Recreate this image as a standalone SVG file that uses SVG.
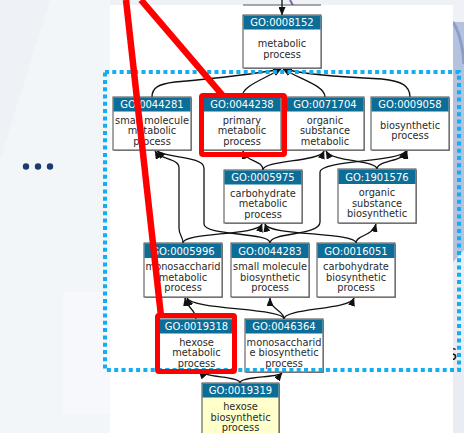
<svg xmlns="http://www.w3.org/2000/svg" width="464" height="433" viewBox="0 0 464 433">
  <defs>
    <marker id="arrow" markerUnits="userSpaceOnUse" markerWidth="9" markerHeight="7" refX="8" refY="3.5" orient="auto">
      <path d="M0,0 L8.5,3.5 L0,7 z" fill="#111"/>
    </marker>
    <style>
      .box { fill: #ffffff; stroke: #4a4a4a; stroke-width: 1; }
      .leaf { fill: #ffffcc; stroke: #4a4a4a; stroke-width: 1; }
      .shadow { fill: #9a9a9a; }
      .hdr { fill: #0c6d97; }
      .id { font-family: "DejaVu Sans", sans-serif; font-size: 10px; fill: #ffffff; text-anchor: middle; }
      .lbl { font-family: "DejaVu Sans", sans-serif; font-size: 9.8px; fill: #2a2a2a; text-anchor: middle; }
      .edge { fill: none; stroke: #111111; stroke-width: 1.3; marker-end: url(#arrow); }
      .sel { fill: none; stroke: #ff0000; stroke-width: 5; stroke-linejoin: round; }
      .ptr { stroke: #ff0000; stroke-width: 6.5; stroke-linecap: butt; }
    </style>
  </defs>

  <!-- slide background -->
  <rect x="0" y="0" width="464" height="433" fill="#eef2f6"/>
  <polygon points="50,0 110,0 110,433 0,433 0,160" fill="#f3f6f9"/>
  <rect x="63" y="292" width="47" height="122" fill="#f6f8fb"/>
  <path d="M290,0 L296,11" stroke="#7f66b0" stroke-width="2" fill="none"/>
  <!-- right side decoration -->
  <rect x="453" y="22" width="11" height="290" fill="#b4c1df"/>
  <path d="M453,22 Q462,36 464,64" stroke="#8c9dc6" stroke-width="3" fill="none"/>
  <polygon points="453,262 464,250 464,433 453,433" fill="#e9edf3"/>
  <text x="447" y="360" font-family="DejaVu Sans, sans-serif" font-size="16" fill="#111">S</text>

  <!-- diagram panel -->
  <rect x="110" y="5" width="343" height="428" fill="#ffffff"/>
  <line x1="243" y1="5" x2="321" y2="5" stroke="#555" stroke-width="1.2"/>

  <!-- connectors -->
  <g id="connectors">
    <path class="edge" d="M282,0 L282,15"/>
    <path class="edge" d="M152,97 C152,88 158,84 175,82 C220,78 255,74 281,69"/>
    <path class="edge" d="M242,97 C242,86 262,80 281,69"/>
    <path class="edge" d="M325,97 C325,86 302,80 283,69"/>
    <path class="edge" d="M410,97 C410,86 402,81 382,79 C340,77 302,74 284,69"/>

    <path class="edge" d="M263,170 C263,160 246,162 243,151"/>
    <path class="edge" d="M263,170 C263,160 320,162 324,151"/>
    <path class="edge" d="M377,169 C377,160 332,162 326,151"/>
    <path class="edge" d="M377,169 C377,160 404,162 407,151"/>

    <path class="edge" d="M183,243 C183,236 179,236 179,228 L179,168 C179,158 160,160 155,151"/>
    <path class="edge" d="M270,243 C270,232 204,236 204,224 L204,168 C204,156 165,158 157,151"/>
    <path class="edge" d="M270,243 C270,232 320,236 320,222 L320,172 C320,160 400,162 406,151"/>
    <path class="edge" d="M183,243 C183,232 258,236 262,224"/>
    <path class="edge" d="M356,243 C356,232 268,236 265,224"/>
    <path class="edge" d="M356,243 C356,235 373,236 376,224"/>

    <path class="edge" d="M196,319 C196,310 187,308 185,298"/>
    <path class="edge" d="M284,319 C284,308 192,310 187,298"/>
    <path class="edge" d="M284,319 C284,310 270,310 270,298"/>
    <path class="edge" d="M284,319 C284,308 350,310 354,298"/>

    <path class="edge" d="M240,383 C240,376 205,378 199,371"/>
    <path class="edge" d="M240,383 C240,376 278,378 282,373"/>
  </g>

  <!-- terms -->
  <g id="GO_0008152">
    <rect class="shadow" x="244" y="16" width="78" height="53"/>
    <rect class="box" x="243" y="15" width="78" height="53"/>
    <rect class="hdr" x="243.5" y="15.5" width="77" height="14"/>
    <text class="id" x="282" y="26">GO:0008152</text>
    <text class="lbl" x="282" y="46.5">metabolic</text>
    <text class="lbl" x="282" y="57.5">process</text>
  </g>

  <g id="GO_0044281">
    <rect class="shadow" x="114" y="98" width="78" height="53"/>
    <rect class="box" x="113" y="97" width="78" height="53"/>
    <rect class="hdr" x="113.5" y="97.5" width="77" height="14"/>
    <text class="id" x="152" y="108">GO:0044281</text>
    <text class="lbl" x="152" y="123.5">small molecule</text>
    <text class="lbl" x="152" y="134">metabolic</text>
    <text class="lbl" x="152" y="144.5">process</text>
  </g>

  <g id="GO_0044238">
    <rect class="shadow" x="204" y="98" width="78" height="53"/>
    <rect class="box" x="203" y="97" width="78" height="53"/>
    <rect class="hdr" x="203.5" y="97.5" width="77" height="14"/>
    <text class="id" x="242" y="108">GO:0044238</text>
    <text class="lbl" x="242" y="123.5">primary</text>
    <text class="lbl" x="242" y="134">metabolic</text>
    <text class="lbl" x="242" y="144.5">process</text>
  </g>

  <g id="GO_0071704">
    <rect class="shadow" x="287" y="98" width="78" height="53"/>
    <rect class="box" x="286" y="97" width="78" height="53"/>
    <rect class="hdr" x="286.5" y="97.5" width="77" height="14"/>
    <text class="id" x="325" y="108">GO:0071704</text>
    <text class="lbl" x="325" y="123.5">organic</text>
    <text class="lbl" x="325" y="134">substance</text>
    <text class="lbl" x="325" y="144.5">metabolic</text>
  </g>

  <g id="GO_0009058">
    <rect class="shadow" x="372" y="98" width="78" height="53"/>
    <rect class="box" x="371" y="97" width="78" height="53"/>
    <rect class="hdr" x="371.5" y="97.5" width="77" height="14"/>
    <text class="id" x="410" y="108">GO:0009058</text>
    <text class="lbl" x="410" y="128.5">biosynthetic</text>
    <text class="lbl" x="410" y="139">process</text>
  </g>

  <g id="GO_0005975">
    <rect class="shadow" x="225" y="171" width="78" height="53"/>
    <rect class="box" x="224" y="170" width="78" height="53"/>
    <rect class="hdr" x="224.5" y="170.5" width="77" height="14"/>
    <text class="id" x="263" y="181">GO:0005975</text>
    <text class="lbl" x="263" y="196.5">carbohydrate</text>
    <text class="lbl" x="263" y="207">metabolic</text>
    <text class="lbl" x="263" y="217.5">process</text>
  </g>

  <g id="GO_1901576">
    <rect class="shadow" x="339" y="170" width="78" height="54"/>
    <rect class="box" x="338" y="169" width="78" height="54"/>
    <rect class="hdr" x="338.5" y="169.5" width="77" height="14.5"/>
    <text class="id" x="377" y="180.5">GO:1901576</text>
    <text class="lbl" x="377" y="196">organic</text>
    <text class="lbl" x="377" y="206.5">substance</text>
    <text class="lbl" x="377" y="217">biosynthetic</text>
  </g>

  <g id="GO_0005996">
    <rect class="shadow" x="145" y="244" width="78" height="54"/>
    <rect class="box" x="144" y="243" width="78" height="54"/>
    <rect class="hdr" x="144.5" y="243.5" width="77" height="14.5"/>
    <text class="id" x="183" y="254.5">GO:0005996</text>
    <text class="lbl" x="183" y="270">monosaccharid</text>
    <text class="lbl" x="183" y="280.5">metabolic</text>
    <text class="lbl" x="183" y="291">process</text>
  </g>

  <g id="GO_0044283">
    <rect class="shadow" x="232" y="244" width="78" height="54"/>
    <rect class="box" x="231" y="243" width="78" height="54"/>
    <rect class="hdr" x="231.5" y="243.5" width="77" height="14.5"/>
    <text class="id" x="270" y="254.5">GO:0044283</text>
    <text class="lbl" x="270" y="270">small molecule</text>
    <text class="lbl" x="270" y="280.5">biosynthetic</text>
    <text class="lbl" x="270" y="291">process</text>
  </g>

  <g id="GO_0016051">
    <rect class="shadow" x="318" y="244" width="78" height="54"/>
    <rect class="box" x="317" y="243" width="78" height="54"/>
    <rect class="hdr" x="317.5" y="243.5" width="77" height="14.5"/>
    <text class="id" x="356" y="254.5">GO:0016051</text>
    <text class="lbl" x="356" y="270">carbohydrate</text>
    <text class="lbl" x="356" y="280.5">biosynthetic</text>
    <text class="lbl" x="356" y="291">process</text>
  </g>

  <g id="GO_0019318">
    <rect class="shadow" x="159" y="320" width="77" height="52"/>
    <rect class="box" x="158" y="319" width="77" height="52"/>
    <rect class="hdr" x="158.5" y="319.5" width="76" height="14"/>
    <text class="id" x="196.5" y="330">GO:0019318</text>
    <text class="lbl" x="196.5" y="345.5">hexose</text>
    <text class="lbl" x="196.5" y="356">metabolic</text>
    <text class="lbl" x="196.5" y="366.5">process</text>
  </g>

  <g id="GO_0046364">
    <rect class="shadow" x="246" y="320" width="78" height="53"/>
    <rect class="box" x="245" y="319" width="78" height="53"/>
    <rect class="hdr" x="245.5" y="319.5" width="77" height="14"/>
    <text class="id" x="284" y="330">GO:0046364</text>
    <text class="lbl" x="284" y="345.5">monosaccharid</text>
    <text class="lbl" x="284" y="356">e biosynthetic</text>
    <text class="lbl" x="284" y="366.5">process</text>
  </g>

  <g id="GO_0019319">
    <rect class="shadow" x="203" y="384" width="77" height="54"/>
    <rect class="leaf" x="202" y="383" width="77" height="54"/>
    <rect class="hdr" x="202.5" y="383.5" width="76" height="14"/>
    <text class="id" x="240.5" y="394">GO:0019319</text>
    <text class="lbl" x="240.5" y="410">hexose</text>
    <text class="lbl" x="240.5" y="420.5">biosynthetic</text>
    <text class="lbl" x="240.5" y="431">process</text>
  </g>

  <!-- dotted grouping frame -->
  <rect x="105" y="72" width="354" height="298" fill="none" stroke="#12aef0" stroke-width="4" stroke-dasharray="4 3.3"/>

  <!-- ellipsis -->
  <g fill="#1d3b6a">
    <circle cx="26" cy="166.5" r="3.2"/>
    <circle cx="38" cy="166.5" r="3.2"/>
    <circle cx="50" cy="166.5" r="3.2"/>
  </g>

  <!-- highlights -->
  <rect class="sel" x="201.5" y="95.5" width="83" height="59" rx="1.5"/>
  <rect class="sel" x="157.5" y="315.5" width="77" height="56" rx="1.5"/>
  <line class="ptr" x1="126" y1="0" x2="161" y2="316"/>
  <line class="ptr" x1="141" y1="0" x2="224" y2="97"/>
</svg>
